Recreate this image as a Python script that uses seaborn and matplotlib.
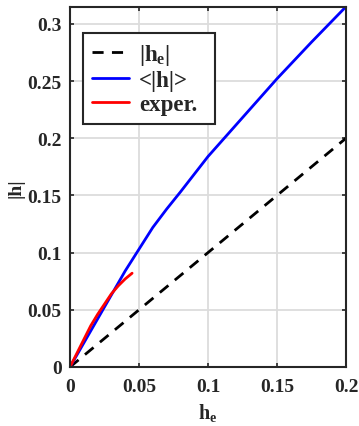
import numpy as np
import pandas as pd
import matplotlib
matplotlib.use("Agg")
import matplotlib.pyplot as plt
import seaborn as sns

# data
he_line = [0.0, 0.2]
abs_he = [0.0, 0.2]

he_mean = [0.0, 0.01, 0.02, 0.03, 0.04, 0.05, 0.06, 0.07, 0.08, 0.1, 0.125, 0.15, 0.175, 0.2]
h_mean = [0.0, 0.021, 0.042, 0.063, 0.084, 0.103, 0.122, 0.138, 0.153, 0.184, 0.218, 0.252, 0.284, 0.315]

he_exp = [0.0, 0.005, 0.01, 0.015, 0.02, 0.025, 0.03, 0.035, 0.04, 0.045]
h_exp = [0.0, 0.012, 0.024, 0.036, 0.046, 0.055, 0.064, 0.071, 0.077, 0.082]

xticks = [0, 0.05, 0.1, 0.15, 0.2]
xticklabels = ["0", "0.05", "0.1", "0.15", "0.2"]
yticks = [0, 0.05, 0.1, 0.15, 0.2, 0.25, 0.3]
yticklabels = ["0", "0.05", "0.1", "0.15", "0.2", "0.25", "0.3"]

sns.set_theme(style="ticks")
plt.rcParams["font.family"] = ["Liberation Serif", "DejaVu Serif"]
plt.rcParams["font.weight"] = "bold"
plt.rcParams["mathtext.fontset"] = "custom"
plt.rcParams["mathtext.rm"] = "Liberation Serif:bold"
plt.rcParams["mathtext.it"] = "Liberation Serif:bold"
plt.rcParams["mathtext.bf"] = "Liberation Serif:bold"

fig = plt.figure(figsize=(3.59, 4.27), dpi=100)
ax = fig.add_axes([70/359, 1-368/427, 276/359, 360/427])

dark = "#262626"
sns.lineplot(x=he_line, y=abs_he, ax=ax, color="black", lw=2.0, linestyle=(0, (4, 3)),
             label=r"|h$_{\rm e}$|")
sns.lineplot(x=he_mean, y=h_mean, ax=ax, color="#0000ff", lw=2.0, label="<|h|>")
sns.lineplot(x=he_exp, y=h_exp, ax=ax, color="#ff0000", lw=2.0, label="exper.")

ax.set_xlim(0, 0.2)
ax.set_ylim(0, 0.3147)
ax.set_xticks(xticks)
ax.set_xticklabels(xticklabels)
ax.set_yticks(yticks)
ax.set_yticklabels(yticklabels)
ax.grid(True, color="#dcdcdc", lw=1.3)
ax.set_axisbelow(True)
for s in ax.spines.values():
    s.set_color(dark)
    s.set_linewidth(1.5)
    s.set_visible(True)
ax.tick_params(direction="in", length=3, width=1.2, color=dark, labelsize=14,
               top=True, right=True, labelcolor=dark)
ax.tick_params(axis="x", pad=8)
ax.tick_params(axis="y", pad=6)
for lab in ax.get_xticklabels() + ax.get_yticklabels():
    lab.set_fontweight("bold")

ax.set_xlabel(r"h$_{\rm e}$", fontsize=14.5, fontweight="bold", color=dark, labelpad=4)
ax.set_ylabel("|h|", fontsize=14, fontweight="bold", color=dark, labelpad=2)

leg = ax.legend(loc="upper left", bbox_to_anchor=(0.047, 0.5, 0.478, 0.428), mode="expand",
                fontsize=16.5, frameon=True, fancybox=False, handlelength=1.6, borderpad=0.4,
                labelspacing=0.12, handletextpad=0.45, borderaxespad=0)
leg.get_frame().set_edgecolor(dark)
leg.get_frame().set_linewidth(1.5)
leg.get_frame().set_alpha(1)
for t in leg.get_texts():
    t.set_fontweight("bold")
    t.set_color(dark)

fig.savefig("out.png", dpi=100)
